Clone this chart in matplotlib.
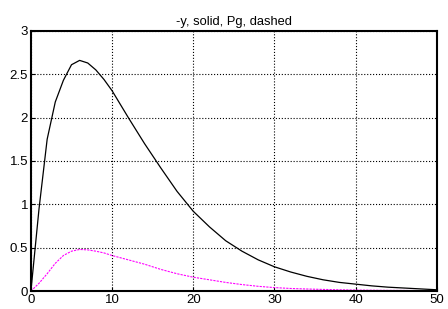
import matplotlib
matplotlib.use('Agg')
import matplotlib.pyplot as plt

plt.rcParams['font.family'] = ['Liberation Sans', 'DejaVu Sans']

t = [0, 1, 2, 3, 4, 5, 6, 7, 8, 9, 10, 12, 14, 16, 18, 20, 22, 24, 26, 28,
     30, 32, 34, 36, 38, 40, 42, 44, 46, 48, 50]
neg_y = [0, 0.95, 1.75, 2.18, 2.43, 2.61, 2.66, 2.63, 2.55, 2.44, 2.31, 2.0,
         1.7, 1.42, 1.15, 0.92, 0.74, 0.58, 0.46, 0.36, 0.28, 0.22, 0.17,
         0.13, 0.10, 0.08, 0.06, 0.045, 0.035, 0.025, 0.015]
pg = [0, 0.09, 0.2, 0.32, 0.41, 0.46, 0.48, 0.475, 0.46, 0.44, 0.41, 0.36,
      0.31, 0.25, 0.2, 0.16, 0.13, 0.1, 0.075, 0.055, 0.04, 0.03, 0.024,
      0.019, 0.015, 0.012, 0.01, 0.008, 0.007, 0.006, 0.005]

xticks = [0, 10, 20, 30, 40, 50]
yticks = [0, 0.5, 1, 1.5, 2, 2.5, 3]

fig = plt.figure(figsize=(4.48, 3.09), dpi=100)
ax = fig.add_axes([0.069, 0.058, 0.906, 0.842])

ax.plot(t, neg_y, color='black', linewidth=0.9)
ax.plot(t, pg, color='magenta', linewidth=0.8, linestyle=(0, (2, 1)))

ax.set_xlim(0, 50)
ax.set_ylim(0, 3)
ax.set_xticks(xticks)
ax.set_yticks(yticks)
ax.set_xticklabels([str(v) for v in xticks])
ax.set_yticklabels(['0', '0.5', '1', '1.5', '2', '2.5', '3'])
ax.tick_params(direction='in', length=3, labelsize=9.5, pad=2)
ax.grid(True, color='black', linestyle=':', linewidth=0.8)
for s in ax.spines.values():
    s.set_linewidth(1.5)

ax.set_title('-y, solid, Pg, dashed', fontsize=9.3, pad=4)

fig.savefig('out.png', dpi=100)
